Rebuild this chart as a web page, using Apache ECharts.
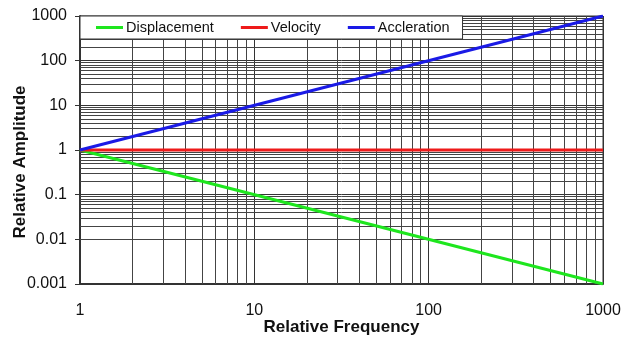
<!DOCTYPE html>
<html><head><meta charset="utf-8">
<script src="https://cdn.jsdelivr.net/npm/echarts@6/dist/echarts.min.js"></script>
<style>html,body{margin:0;padding:0;background:#fff}#c{width:624px;height:340px}</style>
</head><body><div id="c"></div>
<script>
const frequency = [1, 1000];
const displacement = [1, 0.001];
const velocity = [1, 1];
const acceleration = [1, 1000];
const xTickLabels = ['1', '10', '100', '1000'];
const yTickLabels = ['0.001', '0.01', '0.1', '1', '10', '100', '1000'];
const xDecades = [1, 10, 100];
const yDecades = [0.001, 0.01, 0.1, 1, 10, 100];
const minorMultipliers = [2, 3, 4, 5, 6, 7, 8, 9];

const font = 'Liberation Sans, Arial, sans-serif';
const gridX = [];
xDecades.forEach(d => minorMultipliers.forEach(m => gridX.push({ xAxis: +(d * m).toPrecision(6) })));
const gridY = [];
yDecades.forEach(d => minorMultipliers.forEach(m => gridY.push({ yAxis: +(d * m).toPrecision(6) })));

const chart = echarts.init(document.getElementById('c'), null, { renderer: 'canvas' });
chart.setOption({
  animation: false,
  backgroundColor: '#fff',
  textStyle: { fontFamily: font },
  grid: { left: 80, right: 21, top: 16, bottom: 56, show: true, borderColor: '#333', borderWidth: 1,
    containLabel: false, outerBoundsMode: 'none' },
  legend: {
    left: 80, top: 16, orient: 'horizontal',
    padding: [4, 13, 4, 16], itemGap: 27, itemWidth: 27, itemHeight: 3,
    borderColor: '#333', borderWidth: 1, backgroundColor: '#fff',
    icon: 'rect',
    textStyle: { fontFamily: font, fontSize: 14.5, color: '#111', padding: [0, 0, 0, -2] },
    data: ['Displacement', 'Velocity', 'Accleration']
  },
  xAxis: {
    type: 'log', logBase: 10, min: 1, max: 1000,
    name: 'Relative Frequency', nameLocation: 'middle', nameGap: 35, nameMoveOverlap: false,
    nameTextStyle: { fontFamily: font, fontSize: 17, fontWeight: 'bold', color: '#111' },
    axisLine: { lineStyle: { color: '#333', width: 2 } },
    axisTick: { show: false },
    axisLabel: { fontFamily: font, fontSize: 16, color: '#111', margin: 19,
      formatter: (v, i) => xTickLabels[i] },
    splitLine: { show: true, lineStyle: { color: '#333', width: 1 } }
  },
  yAxis: {
    type: 'log', logBase: 10, min: 0.001, max: 1000,
    name: 'Relative Amplitude', nameLocation: 'middle', nameGap: 51, nameRotate: 90, nameMoveOverlap: false,
    nameTextStyle: { fontFamily: font, fontSize: 17, fontWeight: 'bold', color: '#111', padding: [0, 24, 0, 0] },
    axisLine: { lineStyle: { color: '#333', width: 2 } },
    axisTick: { show: true, inside: false, length: 5, lineStyle: { color: '#333', width: 1 } },
    axisLabel: { fontFamily: font, fontSize: 16, color: '#111', margin: 13,
      formatter: (v, i) => yTickLabels[i] },
    splitLine: { show: true, lineStyle: { color: '#333', width: 1 } }
  },
  series: [
    {
      name: 'Displacement', type: 'line', showSymbol: false, symbol: 'none',
      data: frequency.map((f, i) => [f, displacement[i]]),
      lineStyle: { color: '#1ee61e', width: 3 }, itemStyle: { color: '#1ee61e' }, z: 5,
      markLine: {
        silent: true, symbol: ['none', 'none'], label: { show: false }, animation: false,
        lineStyle: { color: '#444', width: 1, type: 'solid' },
        data: gridX.concat(gridY), z: 1
      }
    },
    {
      name: 'Velocity', type: 'line', showSymbol: false, symbol: 'none',
      data: frequency.map((f, i) => [f, velocity[i]]),
      lineStyle: { color: '#ee1a1a', width: 3 }, itemStyle: { color: '#ee1a1a' }, z: 5
    },
    {
      name: 'Accleration', type: 'line', showSymbol: false, symbol: 'none',
      data: frequency.map((f, i) => [f, acceleration[i]]),
      lineStyle: { color: '#1a1ae6', width: 3 }, itemStyle: { color: '#1a1ae6' }, z: 5
    }
  ]
});
</script></body></html>
